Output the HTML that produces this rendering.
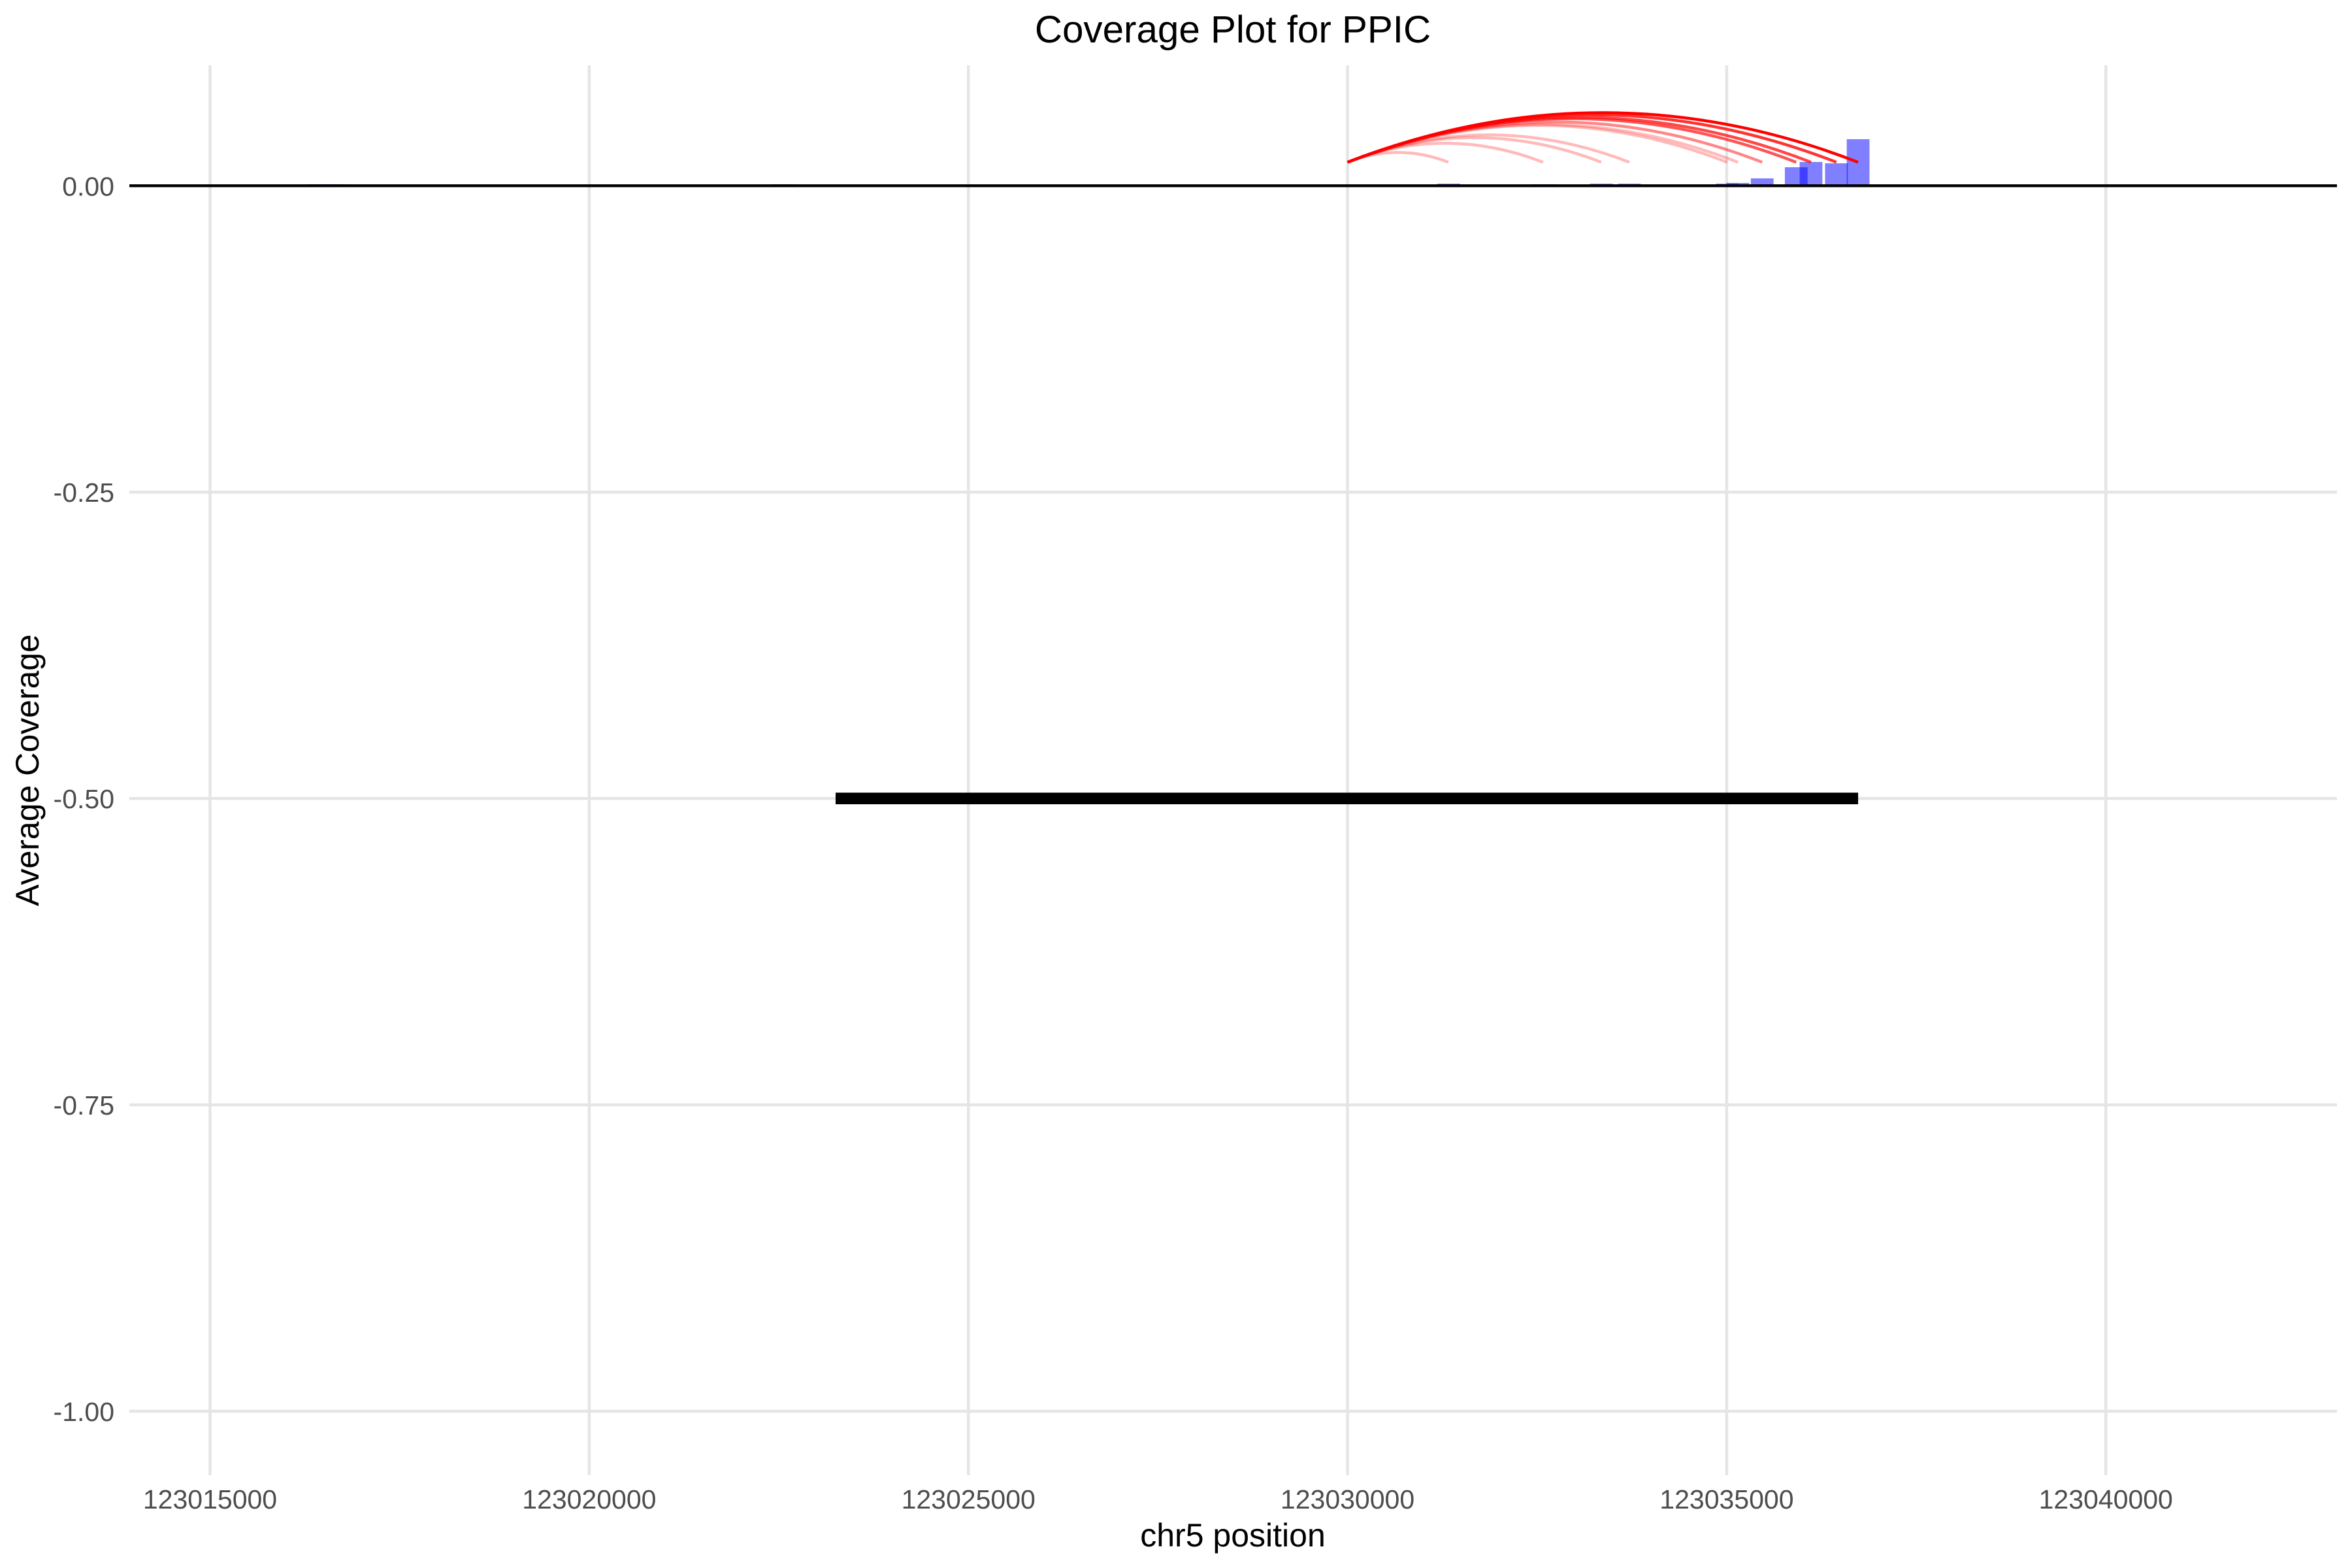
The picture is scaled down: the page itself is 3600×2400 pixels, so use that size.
<!DOCTYPE html>
<html lang="en">
<head>
<meta charset="utf-8">
<title>Coverage Plot for PPIC</title>
<style>
html,body{margin:0;padding:0;background:#fff;}
svg{display:block;font-family:"Liberation Sans",Arial,sans-serif;}
</style>
</head>
<body>
<svg id="chart" xmlns="http://www.w3.org/2000/svg" width="3600" height="2400" viewBox="0 0 3600 2400">
<rect x="0" y="0" width="3600" height="2400" fill="#ffffff"/>
<g id="grid"></g>
<g id="bars"></g>
<g id="zero"></g>
<g id="gene"></g>
<g id="arcs"></g>
<g id="xticks"></g>
<g id="yticks"></g>
<text x="1887" y="65" font-size="58.33" text-anchor="middle" fill="#000000">Coverage Plot for PPIC</text>
<text x="1887" y="2367" font-size="50" text-anchor="middle" fill="#000000">chr5 position</text>
<text transform="translate(59,1179) rotate(-90)" font-size="50" text-anchor="middle" fill="#000000">Average Coverage</text>
</svg>
<script>
var xTickValues = [123015000, 123020000, 123025000, 123030000, 123035000, 123040000];
var yTickValues = [0, -0.25, -0.5, -0.75, -1];
var yTickLabels = ['0.00', '-0.25', '-0.50', '-0.75', '-1.00'];
var barCenters = [123016443, 123016641, 123022551, 123031335, 123032579, 123033347, 123033717, 123035008, 123035148, 123035468, 123035917, 123036112, 123036447, 123036733];
var barValues = [0.0012, 0.0012, 0.0012, 0.0017, 0.0012, 0.0017, 0.0017, 0.0017, 0.0023, 0.006, 0.0151, 0.0194, 0.0183, 0.038];
var barWidthBp = 300;
var arcStart = 123030000;
var arcEnds = [123031330, 123032579, 123033347, 123033717, 123035008, 123035148, 123035468, 123035917, 123036112, 123036447, 123036733];
var arcAlphas = [0.27, 0.27, 0.27, 0.27, 0.27, 0.27, 0.47, 0.67, 0.72, 0.8, 1];
var arcBaseValue = 0.0192;
var arcCurvature = 0.097;
var geneStart = 123023249;
var geneEnd = 123036733;
var geneValue = -0.5;

var SVGNS = 'http://www.w3.org/2000/svg';
var panelLeft = 198, panelRight = 3577, panelTop = 100, panelBottom = 2258;

function xScale(v) { return 321.5 + (v - 123015000) * 0.11607; }
function yScale(v) { return 284.3 - v * 1875.7; }

function make(tag, parent, attrs) {
  var el = document.createElementNS(SVGNS, tag);
  for (var k in attrs) { el.setAttribute(k, attrs[k]); }
  parent.appendChild(el);
  return el;
}

var gridG = document.getElementById('grid');
xTickValues.forEach(function (v) {
  var el = make('line', gridG, { x1: xScale(v), x2: xScale(v), y1: panelTop, y2: panelBottom, stroke: '#e5e5e5', 'stroke-width': 4.45 });
  
  
});
yTickValues.forEach(function (v) {
  var el = make('line', gridG, { x1: panelLeft, x2: panelRight, y1: yScale(v), y2: yScale(v), stroke: '#e5e5e5', 'stroke-width': 4.45 });
  
  
});

var barsG = document.getElementById('bars');
barCenters.forEach(function (c, i) {
  var x0 = xScale(c - barWidthBp / 2), x1 = xScale(c + barWidthBp / 2);
  var yTop = yScale(barValues[i]), yBase = yScale(0);
  var el = make('rect', barsG, { x: x0, y: yTop, width: x1 - x0, height: yBase - yTop, fill: '#0000ff', 'fill-opacity': 0.5 });
  
  
});

var zeroG = document.getElementById('zero');
var zeroLine = make('line', zeroG, { x1: panelLeft, x2: panelRight, y1: yScale(0), y2: yScale(0), stroke: '#000000', 'stroke-width': 4.45 });



var geneG = document.getElementById('gene');
var geneLine = make('line', geneG, { x1: xScale(geneStart), x2: xScale(geneEnd), y1: yScale(geneValue), y2: yScale(geneValue), stroke: '#000000', 'stroke-width': 17.8 });



var arcsG = document.getElementById('arcs');
arcEnds.forEach(function (end, i) {
  var x0 = xScale(arcStart), x1 = xScale(end), y0 = yScale(arcBaseValue);
  var cx = (x0 + x1) / 2;
  var cy = y0 - 2 * arcCurvature * (x1 - x0);
  var d = 'M' + x0 + ' ' + y0 + ' Q' + cx + ' ' + cy + ' ' + x1 + ' ' + y0;
  var el = make('path', arcsG, { d: d, fill: 'none', stroke: '#ff0000', 'stroke-opacity': arcAlphas[i], 'stroke-width': 4.45 });
  
  
});

var xTicksG = document.getElementById('xticks');
xTickValues.forEach(function (v) {
  var el = make('text', xTicksG, { x: xScale(v), y: 2309, 'font-size': 41, 'text-anchor': 'middle', fill: '#4d4d4d' });
  el.textContent = String(v);
  
  
});

var yTicksG = document.getElementById('yticks');
yTickValues.forEach(function (v, i) {
  var el = make('text', yTicksG, { x: 175, y: yScale(v) + 15, 'font-size': 41, 'text-anchor': 'end', fill: '#4d4d4d' });
  el.textContent = yTickLabels[i];
  
  
});
</script>
</body>
</html>
